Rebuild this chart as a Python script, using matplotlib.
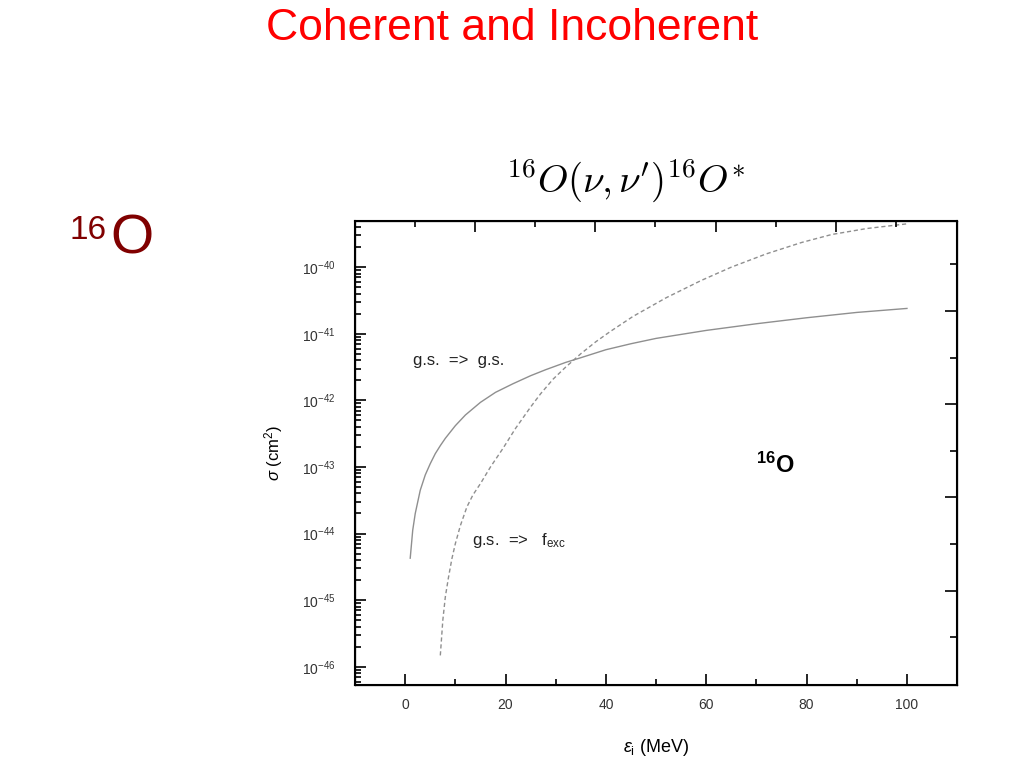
import matplotlib
matplotlib.use("Agg")
import matplotlib.pyplot as plt
import numpy as np
from matplotlib.ticker import LogLocator, NullFormatter, FixedLocator

plt.rcParams["font.family"] = ["Liberation Sans", "DejaVu Sans"]
plt.rcParams["mathtext.fontset"] = "custom"
plt.rcParams["mathtext.rm"] = "Liberation Sans"
plt.rcParams["mathtext.it"] = "Liberation Sans:italic"
plt.rcParams["mathtext.bf"] = "Liberation Sans:bold"

# g.s. => g.s. (coherent), energy in MeV, log10 of sigma in cm^2
gs_energy = [1, 1.5, 2, 3, 4, 5, 6, 7, 8, 10, 12, 15, 18, 21.5, 25, 28, 32, 35,
             40, 45, 50, 55, 60, 70, 80, 90, 100]
gs_log_sigma = [-44.37, -43.95, -43.70, -43.35, -43.12, -42.95, -42.80, -42.68,
                -42.57, -42.38, -42.22, -42.03, -41.88, -41.75, -41.63, -41.54,
                -41.43, -41.36, -41.24, -41.15, -41.07, -41.01, -40.95, -40.85,
                -40.76, -40.68, -40.62]

# g.s. => f_exc (incoherent)
exc_energy = [7, 7.5, 8, 8.6, 9.3, 10, 11, 12.3, 13.5, 15, 17, 19.5, 22, 25, 27,
              29.5, 32, 35, 38, 40.8, 45.4, 52, 59, 65, 72, 79, 85, 92, 100]
exc_log_sigma = [-45.83, -45.30, -44.95, -44.67, -44.38, -44.15, -43.88, -43.60,
                 -43.42, -43.25, -43.00, -42.72, -42.42, -42.10, -41.90, -41.68,
                 -41.50, -41.30, -41.12, -40.97, -40.74, -40.46, -40.20, -40.00,
                 -39.80, -39.63, -39.51, -39.42, -39.35]

x_ticks = [0, 20, 40, 60, 80, 100]
y_decades = [-46, -45, -44, -43, -42, -41, -40]

fig = plt.figure(figsize=(10.24, 7.68), dpi=100)
ax = fig.add_axes([0.3467, 0.108, 0.588, 0.604])

ax.plot(gs_energy, 10.0 ** np.array(gs_log_sigma), color="#8f8f8f", lw=1.0)
ax.plot(exc_energy, 10.0 ** np.array(exc_log_sigma), color="#8f8f8f", lw=1.0,
        dashes=(3, 2))

ax.set_yscale("log")
ax.set_xlim(-10, 110)
ax.set_ylim(10 ** -46.275, 10 ** -39.31)
ax.set_xticks(x_ticks)
ax.set_xticks([10, 30, 50, 70, 90], minor=True)
ax.set_yticks([10.0 ** d for d in y_decades])
ax.set_yticklabels([r"$10^{%d}$" % d for d in y_decades])
ax.yaxis.set_minor_locator(LogLocator(base=10, subs=np.arange(2, 10), numticks=20))
ax.yaxis.set_minor_formatter(NullFormatter())

ax.tick_params(which="both", direction="in", colors="black", labelcolor="#333333",
               labelsize=10, width=1.2)
ax.tick_params(which="major", length=8)
ax.tick_params(which="minor", length=4)
ax.tick_params(axis="x", pad=9)
ax.tick_params(axis="y", pad=14)
for s in ax.spines.values():
    s.set_linewidth(1.5)

ax.set_xlabel(r"$\varepsilon_{\rm i}$ (MeV)", fontsize=13, labelpad=18)
ax.set_ylabel(r"$\sigma$ (cm$^2$)", fontsize=12, labelpad=12)

# extra unlabelled axes on top and right, as in the scanned figure
ax_top = ax.twiny()
ax_top.set_xlim(-1.0, 9.02)
ax_top.xaxis.set_major_locator(FixedLocator([1, 3, 5, 7]))
ax_top.xaxis.set_minor_locator(FixedLocator([0, 2, 4, 6, 8]))
ax_top.tick_params(which="both", direction="in", labeltop=False, width=1.2)
ax_top.tick_params(which="major", length=8)
ax_top.tick_params(which="minor", length=4)

ax_right = ax.twinx()
ax_right.set_ylim(-1.03, 8.93)
ax_right.yaxis.set_major_locator(FixedLocator([1, 3, 5, 7]))
ax_right.yaxis.set_minor_locator(FixedLocator([0, 2, 4, 6, 8]))
ax_right.tick_params(which="both", direction="in", labelright=False, width=1.2)
ax_right.tick_params(which="major", length=9)
ax_right.tick_params(which="minor", length=5)

ax.text(1.6, 10 ** -41.40, "g.s.  =>  g.s.", fontsize=12, va="center", ha="left",
        color="#222222")
ax.text(13.3, 10 ** -44.10, r"g.s.  =>   f$_{\rm exc}$", fontsize=12, va="center",
        ha="left", color="#222222")
ax.text(73.7, 10 ** -42.97, r"$^{\bf 16}$O", fontsize=17, fontweight="bold",
        va="center", ha="center", color="black")

fig.text(0.5, 0.963, "Coherent and Incoherent", fontsize=32, color="#ff0000",
         ha="center", va="center")
fig.text(0.611, 0.765, r"$^{16}O(\nu,\nu')^{16}O^{*}$", fontsize=28,
         ha="center", va="center", math_fontfamily="cm")
fig.text(0.068, 0.700, "16", fontsize=24, color="#800000", ha="left", va="center")
fig.text(0.108, 0.688, "O", fontsize=40, color="#800000", ha="left", va="center")

fig.savefig("out.png", dpi=100)
plt.close(fig)
